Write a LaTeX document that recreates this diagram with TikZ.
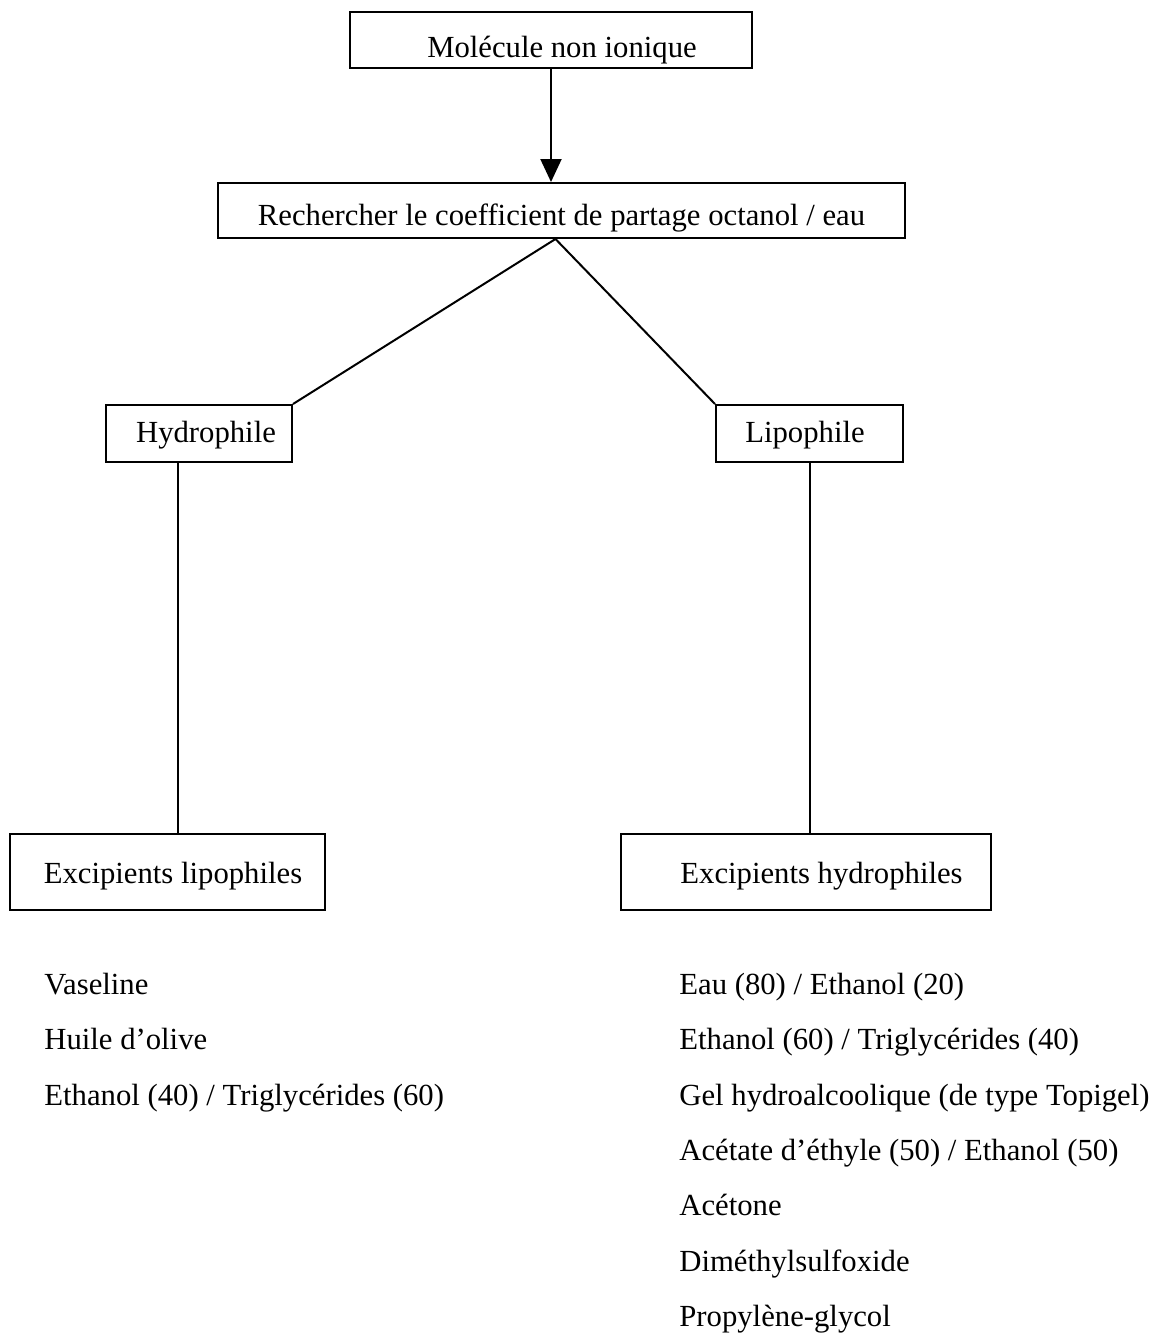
\documentclass[tikz,border=0pt]{standalone}
\usepackage{fontspec}
\setmainfont{Liberation Serif}
\usetikzlibrary{arrows.meta}
\tikzset{
  boite/.style={draw, rectangle, line width=1pt, inner sep=0pt, text depth=0pt},
  decale/.style={execute at begin node={\hspace*{#1}}},
  liste/.style={anchor=base west, inner sep=0pt},
  trait/.style={line width=1pt},
}

\begin{document}
\begin{tikzpicture}[x=0.5pt, y=-0.5pt, font=\fontsize{15.35pt}{18pt}\selectfont]

    \useasboundingbox (0,0) rectangle (1156,1334);

    % boites
    \node[boite, minimum width=201pt, minimum height=28pt, text height=17pt, decale=11pt] (molecule) at (551,40) {Molécule non ionique};
    \node[boite, minimum width=343.5pt, minimum height=27.5pt, text height=14.5pt] (partage) at (561.5,210.5) {Rechercher le coefficient de partage octanol / eau};
    \node[boite, minimum width=93pt, minimum height=28.5pt, text height=8.5pt, decale=7pt] (hydro) at (199,433.5) {Hydrophile};
    \node[boite, minimum width=93.5pt, minimum height=28.5pt, text height=8.5pt, decale=-4.5pt] (lipo) at (809.5,433.5) {Lipophile};
    \node[boite, minimum width=157.5pt, minimum height=38pt, text height=11pt, decale=5.5pt] (exlipo) at (167.5,872) {Excipients lipophiles};
    \node[boite, minimum width=185pt, minimum height=38pt, text height=11pt, decale=15.5pt] (exhydro) at (806,872) {Excipients hydrophiles};

    % liaisons
    \coordinate (fourche) at ([xshift=-3pt]partage.south);
    \draw[trait, -{Triangle[width=10.5pt, length=11.5pt]}] (molecule.south) -- (molecule.south |- partage.north);
    \draw[trait] (fourche) -- (hydro.north east);
    \draw[trait] (fourche) -- (lipo.north west);
    \draw[trait] ([xshift=-10.5pt]hydro.south) -- ([xshift=-10.5pt]hydro.south |- exlipo.north);
    \draw[trait] (lipo.south) -- (lipo.south |- exhydro.north);

    % excipients lipophiles
    \node[liste] (vaseline) at (44,994) {Vaseline};
    \node[liste] (huile) at (44,1049) {Huile d’olive};
    \node[liste] (ethtrigA) at (44,1105) {Ethanol (40) / Triglycérides (60)};

    % excipients hydrophiles
    \node[liste] (eaueth) at (679,994) {Eau (80) / Ethanol (20)};
    \node[liste] (ethtrigB) at (679,1049) {Ethanol (60) / Triglycérides (40)};
    \node[liste] (gel) at (679,1105) {Gel hydroalcoolique (de type Topigel)};
    \node[liste] (acetate) at (679,1160) {Acétate d’éthyle (50) / Ethanol (50)};
    \node[liste] (acetone) at (679,1215) {Acétone};
    \node[liste] (dmso) at (679,1271) {Diméthylsulfoxide};
    \node[liste] (propylene) at (679,1326) {Propylène-glycol};

\end{tikzpicture}
\end{document}
